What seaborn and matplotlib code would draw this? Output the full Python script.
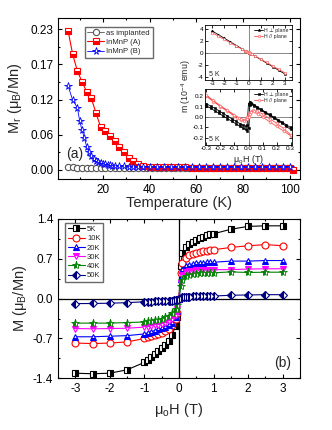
import matplotlib
matplotlib.use('Agg')
import matplotlib.pyplot as plt
from matplotlib.ticker import AutoMinorLocator
import seaborn as sns

# ---- panel (a): remanent magnetisation vs temperature ----
temp_A = [5, 7, 9, 11, 13, 15, 17, 19, 21, 23, 25, 27, 29, 31, 33, 35, 37,
          40, 43, 46, 49, 52, 55, 58, 61, 64, 67, 70, 73, 76, 79, 82, 85, 88, 91, 94, 97, 100, 101.5]
mr_A = [0.228, 0.189, 0.162, 0.144, 0.128, 0.117, 0.093, 0.070, 0.063, 0.055, 0.047, 0.038, 0.029,
        0.020, 0.014, 0.009, 0.007,
        0.005, 0.005, 0.004, 0.004, 0.004, 0.004, 0.003, 0.003, 0.003, 0.003, 0.003, 0.003, 0.003,
        0.003, 0.003, 0.003, 0.003, 0.003, 0.003, 0.003, 0.003, -0.001]

temp_B = [5, 7, 9, 10, 11, 12, 13, 14, 15, 16, 17, 18, 19, 20, 21, 22, 23, 24, 25, 27, 29, 31, 33, 35,
          37, 40, 43, 46, 49, 52, 55, 58, 61, 64, 67, 70, 73, 76, 79, 82, 85, 88, 91, 94, 97, 100]
mr_B = [0.138, 0.114, 0.102, 0.080, 0.065, 0.052, 0.038, 0.029, 0.023, 0.018, 0.015, 0.0125, 0.011,
        0.010, 0.009, 0.008, 0.0075, 0.007, 0.0065, 0.006, 0.0055, 0.005, 0.005, 0.0045,
        0.0045, 0.0045, 0.004, 0.004, 0.004, 0.004, 0.004, 0.004, 0.004, 0.004, 0.004, 0.004, 0.004,
        0.004, 0.004, 0.004, 0.004, 0.004, 0.004, 0.004, 0.004, 0.004]

temp_imp = [5, 7, 9, 11, 13, 15, 17, 19, 21, 23, 25, 27, 29, 31, 33, 35, 37, 39, 41, 43, 45, 47, 49,
            51, 53, 55, 57, 59, 61, 63, 65, 67, 69, 71, 73, 75, 77, 79, 81, 83, 85, 87, 89, 91, 93,
            95, 97, 99]
mr_imp = [0.004, 0.004, 0.0035, 0.0035, 0.0035, 0.003, 0.003, 0.003, 0.003, 0.003, 0.003, 0.003,
          0.003, 0.003, 0.003, 0.003, 0.003, 0.003, 0.003, 0.003, 0.003, 0.003, 0.003, 0.003, 0.003,
          0.003, 0.003, 0.003, 0.003, 0.003, 0.003, 0.003, 0.003, 0.003, 0.003, 0.003, 0.003, 0.003,
          0.003, 0.003, 0.003, 0.003, 0.003, 0.003, 0.003, 0.003, 0.003, 0.003]

a_yticks = [0.0, 0.0575, 0.115, 0.1725, 0.23]
a_ylabels = ['0.00', '0.06', '0.12', '0.17', '0.23']

# ---- inset: m(H) at 5 K ----
h_big = [-3, -2.5, -2, -1.5, -1, -0.5, -0.3, -0.2, -0.1, -0.05, 0, 0.05, 0.1, 0.2, 0.3, 0.5, 1,
         1.5, 2, 2.5, 3]
m_perp_big = [3.6, 3.0, 2.4, 1.8, 1.2, 0.6, 0.35, 0.25, 0.15, 0.05, 0.0, 0.0, -0.05, -0.15, -0.25,
              -0.5, -1.1, -1.7, -2.3, -2.9, -3.5]
m_par_big = [3.3, 2.75, 2.2, 1.65, 1.1, 0.55, 0.35, 0.25, 0.15, 0.1, 0.05, 0.0, -0.05, -0.15, -0.25,
             -0.5, -1.05, -1.6, -2.2, -2.75, -3.3]

h_loop = [0.30, 0.27, 0.24, 0.21, 0.18, 0.15, 0.12, 0.09, 0.06, 0.04, 0.02, 0.01, 0.0, -0.01, -0.02,
          -0.04, -0.06, -0.09, -0.12, -0.15, -0.18, -0.21, -0.24, -0.27, -0.30,
          -0.30, -0.27, -0.24, -0.21, -0.18, -0.15, -0.12, -0.09, -0.06, -0.04, -0.02, -0.01, 0.0,
          0.01, 0.02, 0.04, 0.06, 0.09, 0.12, 0.15, 0.18, 0.21, 0.24, 0.27, 0.30]
m_perp_loop = [-0.10, -0.075, -0.05, -0.025, 0.0, 0.025, 0.05, 0.075, 0.10, 0.12, 0.14, 0.15, 0.13,
               -0.08, -0.09, -0.08, -0.065, -0.04, -0.015, 0.01, 0.035, 0.06, 0.085, 0.105, 0.13,
               0.11, 0.085, 0.06, 0.035, 0.01, -0.015, -0.04, -0.065, -0.09, -0.105, -0.12, -0.13,
               -0.11, 0.12, 0.125, 0.11, 0.09, 0.065, 0.04, 0.015, -0.01, -0.035, -0.06, -0.09, -0.12]
h_loop_par = [0.30, 0.25, 0.20, 0.15, 0.10, 0.07, 0.05, 0.03, 0.01, 0.0, -0.01, -0.02, -0.03, -0.05,
              -0.08, -0.10, -0.15, -0.20, -0.25, -0.30,
              -0.30, -0.25, -0.20, -0.15, -0.10, -0.07, -0.05, -0.03, -0.01, 0.0, 0.01, 0.02, 0.04,
              0.06, 0.10, 0.15, 0.20, 0.25, 0.30]
m_par_loop = [-0.18, -0.135, -0.09, -0.045, 0.0, 0.03, 0.05, 0.065, 0.05, 0.03, 0.0, -0.02, -0.03,
              -0.025, -0.005, 0.01, 0.055, 0.10, 0.15, 0.20,
              0.21, 0.16, 0.11, 0.065, 0.02, -0.005, -0.02, -0.035, -0.02, 0.0, 0.03, 0.05, 0.06,
              0.055, 0.03, -0.015, -0.06, -0.11, -0.17]

# ---- panel (b): M(H) at several temperatures ----
field = [-3, -2.5, -2, -1.5, -1, -0.9, -0.8, -0.7, -0.6, -0.5, -0.4, -0.3, -0.2, -0.1, -0.05, 0,
         0.05, 0.1, 0.2, 0.3, 0.4, 0.5, 0.6, 0.7, 0.8, 0.9, 1, 1.5, 2, 2.5, 3]
m_5K = [-1.31, -1.32, -1.31, -1.25, -1.12, -1.07, -1.02, -0.97, -0.92, -0.87, -0.81, -0.74, -0.64,
        -0.48, -0.32, 0.0, 0.58, 0.80, 0.90, 0.96, 1.00, 1.03, 1.06, 1.09, 1.11, 1.13, 1.14, 1.22,
        1.27, 1.28, 1.28]
m_10K = [-0.78, -0.79, -0.78, -0.76, -0.70, -0.68, -0.66, -0.64, -0.62, -0.60, -0.57, -0.53, -0.47,
         -0.36, -0.25, 0.0, 0.45, 0.62, 0.72, 0.76, 0.78, 0.80, 0.82, 0.83, 0.84, 0.85, 0.86, 0.90,
         0.93, 0.95, 0.93]
m_20K = [-0.67, -0.67, -0.66, -0.65, -0.62, -0.60, -0.58, -0.56, -0.54, -0.52, -0.50, -0.47, -0.42,
         -0.33, -0.22, 0.0, 0.35, 0.50, 0.57, 0.60, 0.61, 0.62, 0.63, 0.63, 0.64, 0.64, 0.64, 0.66,
         0.66, 0.67, 0.67]
m_30K = [-0.525, -0.53, -0.525, -0.52, -0.50, -0.49, -0.48, -0.47, -0.46, -0.44, -0.42, -0.40,
         -0.36, -0.28, -0.18, 0.0, 0.28, 0.41, 0.46, 0.48, 0.49, 0.50, 0.50, 0.51, 0.51, 0.51, 0.51,
         0.51, 0.52, 0.525, 0.525]
m_40K = [-0.43, -0.43, -0.43, -0.42, -0.41, -0.40, -0.39, -0.38, -0.37, -0.35, -0.33, -0.30, -0.26,
         -0.18, -0.11, 0.0, 0.22, 0.32, 0.40, 0.42, 0.43, 0.44, 0.445, 0.45, 0.45, 0.455, 0.455,
         0.47, 0.46, 0.465, 0.465]
field_50 = [-3, -2.5, -2, -1.5, -1, -0.9, -0.8, -0.7, -0.6, -0.5, -0.4, -0.3, -0.25, -0.2, -0.15,
            -0.1, -0.05, 0, 0.05, 0.1, 0.15, 0.2, 0.25, 0.3, 0.4, 0.5, 0.6, 0.7, 0.8, 0.9, 1, 1.5,
            2, 2.5, 3]
m_50K = [-0.087, -0.085, -0.08, -0.07, -0.055, -0.052, -0.05, -0.048, -0.046, -0.044, -0.042, -0.04,
         -0.038, -0.035, -0.032, -0.028, -0.018, 0.0, 0.015, 0.025, 0.03, 0.032, 0.035, 0.037, 0.04,
         0.041, 0.042, 0.043, 0.044, 0.045, 0.046, 0.06, 0.065, 0.07, 0.07]

b_ticks = [-1.4, -0.7, 0.0, 0.7, 1.4]

sns.set_style('ticks', {'xtick.direction': 'in', 'ytick.direction': 'in'})
plt.rcParams['font.family'] = ['Liberation Sans', 'DejaVu Sans']
plt.rcParams['mathtext.fontset'] = 'custom'
plt.rcParams['mathtext.rm'] = 'Liberation Sans'
plt.rcParams['axes.unicode_minus'] = False


def draw(ax, x, y, color, marker, ms, label=None, fill='full', face=None, lw=0.8, mew=0.8):
    sns.lineplot(x=x, y=y, ax=ax, color=color, marker=marker, markersize=ms, lw=lw,
                 markeredgecolor=color, markeredgewidth=mew,
                 markerfacecolor=color if face is None else face,
                 fillstyle=fill, markerfacecoloralt='white',
                 label=label, sort=False, estimator=None)


def frame(ax, lw=0.8, length=3, size=8.5):
    for s in ax.spines.values():
        s.set_linewidth(lw)
        s.set_color('black')
    ax.tick_params(which='both', direction='in', top=True, right=True, width=lw,
                   labelsize=size, colors='black')
    ax.tick_params(which='major', length=length)
    ax.tick_params(which='minor', length=length * 0.6)


fig = plt.figure(figsize=(3.32, 4.30), dpi=100)

# panel (a)
ax_a = fig.add_axes([0.1747, 0.5837, 0.7289, 0.3744])
draw(ax_a, temp_imp, mr_imp, '#555555', 'o', 4.5, 'as implanted', face='white', lw=0.6)
draw(ax_a, temp_A, mr_A, 'red', 's', 4.5, 'InMnP (A)', fill='bottom')
draw(ax_a, temp_B, mr_B, 'blue', '*', 5.5, 'InMnP (B)', face='white', lw=0.6, mew=0.6)
ax_a.set_xlim(0.7, 104.5)
ax_a.set_ylim(-0.015, 0.2485)
ax_a.set_xticks([20, 40, 60, 80, 100])
ax_a.xaxis.set_minor_locator(AutoMinorLocator(2))
ax_a.set_yticks(a_yticks)
ax_a.set_yticklabels(a_ylabels)
ax_a.yaxis.set_minor_locator(AutoMinorLocator(2))
frame(ax_a)
ax_a.set_xlabel('Temperature (K)', fontsize=10.5, labelpad=0)
ax_a.set_ylabel(r'M$_\mathrm{r}$ (μ$_\mathrm{B}$/Mn)', fontsize=10.5, labelpad=4)
ax_a.legend(loc='upper left', bbox_to_anchor=(0.11, 0.945), fontsize=5.5, frameon=True,
            fancybox=False, edgecolor='#444444', handlelength=2.2, handletextpad=0.3,
            borderpad=0.35, labelspacing=0.25, borderaxespad=0)
ax_a.text(0.035, 0.13, '(a)', transform=ax_a.transAxes, fontsize=10)

# inset, upper part
ax_i1 = fig.add_axes([0.6175, 0.814, 0.262, 0.128])
ax_i1.axhline(0, color='#777777', lw=0.6)
ax_i1.axvline(0, color='#777777', lw=0.6)
draw(ax_i1, h_big, m_perp_big, 'black', '*', 2.2, 'H ⊥ plane', lw=0.6, mew=0.4)
draw(ax_i1, h_big, m_par_big, '#ff5050', 'o', 1.8, 'H // plane', face='white', lw=0.6, mew=0.4)
ax_i1.set_xlim(-3.6, 3.6)
ax_i1.set_ylim(-4.5, 4.6)
ax_i1.set_xticks([-3, -2, -1, 0, 1, 2, 3])
ax_i1.set_yticks([-4, -2, 0, 2, 4])
frame(ax_i1, lw=0.6, length=2, size=4.6)
ax_i1.tick_params(pad=1)
ax_i1.legend(loc='upper right', fontsize=3.8, frameon=False, handlelength=1.6,
             handletextpad=0.3, labelspacing=0.1, borderaxespad=0.2)
ax_i1.text(0.05, 0.07, '5 K', transform=ax_i1.transAxes, fontsize=5)

# inset, lower part
ax_i2 = fig.add_axes([0.6175, 0.6628, 0.262, 0.130])
ax_i2.axhline(0, color='#777777', lw=0.6)
ax_i2.axvline(0, color='#777777', lw=0.6)
draw(ax_i2, h_loop, m_perp_loop, 'black', 's', 1.6, 'H ⊥ plane', lw=0.6, mew=0.4)
draw(ax_i2, h_loop_par, m_par_loop, '#ff5050', 'D', 1.6, 'H // plane', face='white', lw=0.6,
     mew=0.4)
ax_i2.set_xlim(-0.31, 0.31)
ax_i2.set_ylim(-0.27, 0.27)
ax_i2.set_xticks([-0.3, -0.2, -0.1, 0.0, 0.1, 0.2, 0.3])
ax_i2.set_yticks([-0.2, -0.1, 0.0, 0.1, 0.2])
frame(ax_i2, lw=0.6, length=2, size=4.6)
ax_i2.tick_params(pad=1)
ax_i2.set_xlabel(r'μ$_\mathrm{o}$H (T)', fontsize=6.5, labelpad=1)
ax_i2.legend(loc='upper right', fontsize=3.8, frameon=False, handlelength=1.6,
             handletextpad=0.3, labelspacing=0.1, borderaxespad=0.2)
ax_i2.text(0.05, 0.07, '5 K', transform=ax_i2.transAxes, fontsize=5)
fig.text(0.562, 0.80, r'm (10$^{-4}$ emu)', rotation=90, fontsize=6.3, ha='center', va='center')

# panel (b)
ax_b = fig.add_axes([0.1747, 0.1202, 0.7289, 0.3705])
ax_b.axhline(0, color='black', lw=0.9)
ax_b.axvline(0, color='black', lw=0.9)
draw(ax_b, field, m_5K, 'black', 's', 4.5, '5K', fill='right')
draw(ax_b, field, m_10K, 'red', 'o', 5, '10K', face='white')
draw(ax_b, field, m_20K, 'blue', '^', 5, '20K', fill='bottom')
draw(ax_b, field, m_30K, 'magenta', 'v', 5, '30K', fill='top')
draw(ax_b, field, m_40K, 'green', '*', 6, '40K', fill='left', mew=0.6)
draw(ax_b, field_50, m_50K, 'navy', 'D', 4.2, '50K', fill='left')
ax_b.set_xlim(-3.5, 3.5)
ax_b.set_ylim(-1.4, 1.4)
ax_b.set_xticks([-3, -2, -1, 0, 1, 2, 3])
ax_b.xaxis.set_minor_locator(AutoMinorLocator(2))
ax_b.set_yticks(b_ticks)
ax_b.set_yticklabels(['%.1f' % t for t in b_ticks])
ax_b.yaxis.set_minor_locator(AutoMinorLocator(2))
frame(ax_b)
ax_b.set_xlabel(r'μ$_\mathrm{o}$H (T)', fontsize=10.5, labelpad=4)
ax_b.set_ylabel(r'M (μ$_\mathrm{B}$/Mn)', fontsize=10.5, labelpad=3)
ax_b.legend(loc='upper left', bbox_to_anchor=(0.03, 0.975), fontsize=5.5, frameon=True,
            fancybox=False, edgecolor='#444444', handlelength=2.2, handletextpad=0.3,
            borderpad=0.35, labelspacing=0.25, borderaxespad=0)
ax_b.text(0.895, 0.07, '(b)', transform=ax_b.transAxes, fontsize=10)

fig.savefig('out.png', dpi=100)
